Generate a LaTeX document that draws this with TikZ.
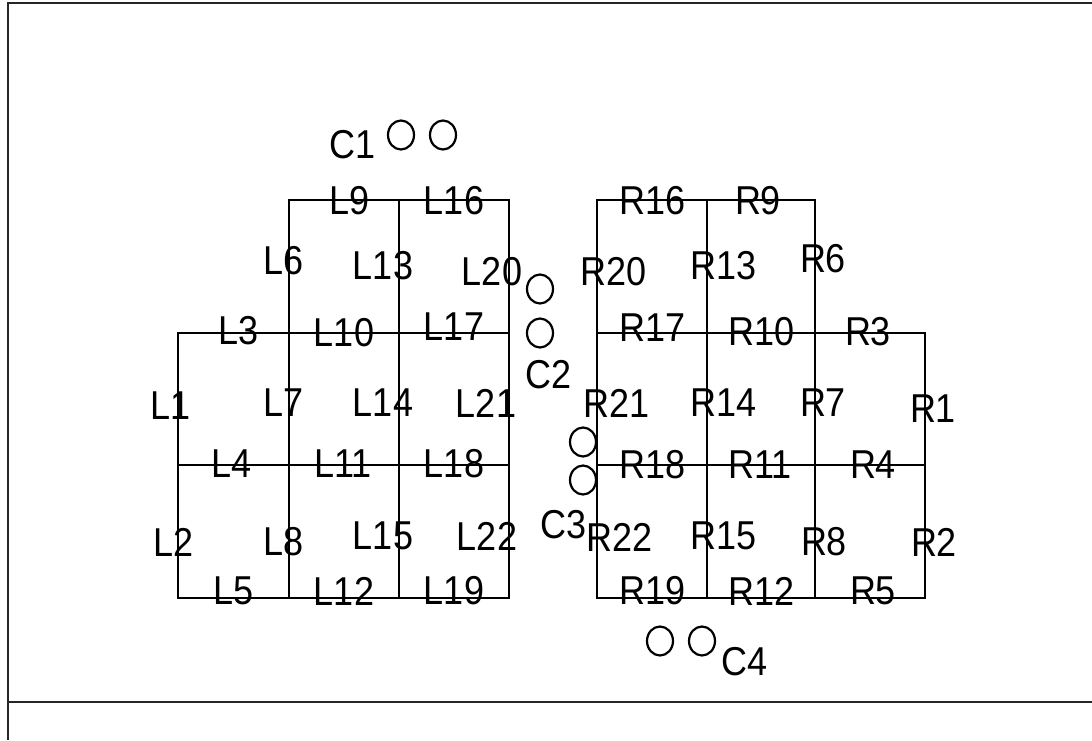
\documentclass[tikz,border=0pt]{standalone}
\usepackage{fontspec}
\setmainfont{Liberation Sans}
\usepackage{graphicx}
\usetikzlibrary{shapes.geometric}
\newcommand{\lblt}[1]{\scalebox{1}[1.12]{#1}}
\begin{document}
\begin{tikzpicture}[x=0.5pt,y=-0.5pt,
  frameline/.style={line width=1.1pt,black!85},
  gridline/.style={line width=0.8pt},
  lbl/.style={inner sep=0pt,font=\fontsize{18}{20}\selectfont},
  hole/.style={draw,line width=1.1pt,ellipse,minimum width=13pt,minimum height=14.5pt,inner sep=0pt}]
\useasboundingbox (0,0) rectangle (1092,740);
% frame
\draw[frameline] (1092,3) -- (8,3) -- (8,740);
\draw[frameline] (8,702) -- (1092,702);
% left grid
\draw[gridline] (289,200) -- (509,200) -- (509,598) -- (178,598) -- (178,333) -- (289,333) -- cycle;
\draw[gridline] (289,333) -- (289,598);
\draw[gridline] (399,200) -- (399,598);
\draw[gridline] (289,333) -- (509,333);
\draw[gridline] (178,465) -- (509,465);
% right grid
\draw[gridline] (597,200) -- (815,200) -- (815,333) -- (925,333) -- (925,598) -- (597,598) -- cycle;
\draw[gridline] (707,200) -- (707,598);
\draw[gridline] (815,333) -- (815,598);
\draw[gridline] (597,333) -- (815,333);
\draw[gridline] (597,465) -- (925,465);
% left labels
\node[lbl] (L1) at (171,406) {\lblt{L1}};
\node[lbl] (L2) at (174,542) {\lblt{L2}};
\node[lbl] (L3) at (239,331) {\lblt{L3}};
\node[lbl] (L4) at (232,464) {\lblt{L4}};
\node[lbl] (L5) at (234,591) {\lblt{L5}};
\node[lbl] (L6) at (284,261) {\lblt{L6}};
\node[lbl] (L7) at (284,403) {\lblt{L7}};
\node[lbl] (L8) at (284,542) {\lblt{L8}};
\node[lbl] (L9) at (350,201) {\lblt{L9}};
\node[lbl] (L10) at (344,333) {\lblt{L10}};
\node[lbl] (L11) at (343,464) {\lblt{L11}};
\node[lbl] (L12) at (344,591) {\lblt{L12}};
\node[lbl] (L13) at (383,266) {\lblt{L13}};
\node[lbl] (L14) at (383,403) {\lblt{L14}};
\node[lbl] (L15) at (383,536) {\lblt{L15}};
\node[lbl] (L16) at (454,201) {\lblt{L16}};
\node[lbl] (L17) at (454,327) {\lblt{L17}};
\node[lbl] (L18) at (454,464) {\lblt{L18}};
\node[lbl] (L19) at (454,591) {\lblt{L19}};
\node[lbl] (L20) at (492,272) {\lblt{L20}};
\node[lbl] (L21) at (486,403) {\lblt{L21}};
\node[lbl] (L22) at (487,536) {\lblt{L22}};
% right labels
\node[lbl] (R1) at (933,409) {\lblt{R1}};
\node[lbl] (R2) at (934,542) {\lblt{R2}};
\node[lbl] (R3) at (868,332) {\lblt{R3}};
\node[lbl] (R4) at (873,465) {\lblt{R4}};
\node[lbl] (R5) at (873,591) {\lblt{R5}};
\node[lbl] (R6) at (823,259) {\lblt{R6}};
\node[lbl] (R7) at (823,403) {\lblt{R7}};
\node[lbl] (R8) at (824,542) {\lblt{R8}};
\node[lbl] (R9) at (758,201) {\lblt{R9}};
\node[lbl] (R10) at (762,332) {\lblt{R10}};
\node[lbl] (R11) at (760,465) {\lblt{R11}};
\node[lbl] (R12) at (762,591) {\lblt{R12}};
\node[lbl] (R13) at (724,266) {\lblt{R13}};
\node[lbl] (R14) at (724,403) {\lblt{R14}};
\node[lbl] (R15) at (724,536) {\lblt{R15}};
\node[lbl] (R16) at (653,201) {\lblt{R16}};
\node[lbl] (R17) at (653,328) {\lblt{R17}};
\node[lbl] (R18) at (653,465) {\lblt{R18}};
\node[lbl] (R19) at (653,591) {\lblt{R19}};
\node[lbl] (R20) at (614,272) {\lblt{R20}};
\node[lbl] (R21) at (617,403) {\lblt{R21}};
\node[lbl] (R22) at (620,537) {\lblt{R22}};
% C labels and holes
\node[lbl] (C1) at (353,145) {\lblt{C1}};
\node[hole] (c1a) at (401,135) {};
\node[hole] (c1b) at (443,135) {};
\node[lbl] (C2) at (549,375) {\lblt{C2}};
\node[hole] (c2a) at (540,289) {};
\node[hole] (c2b) at (540,333) {};
\node[lbl] (C3) at (564,525) {\lblt{C3}};
\node[hole] (c3a) at (583,442) {};
\node[hole] (c3b) at (583,480) {};
\node[lbl] (C4) at (745,662) {\lblt{C4}};
\node[hole] (c4a) at (660,641) {};
\node[hole] (c4b) at (702,641) {};
\end{tikzpicture}
\end{document}
